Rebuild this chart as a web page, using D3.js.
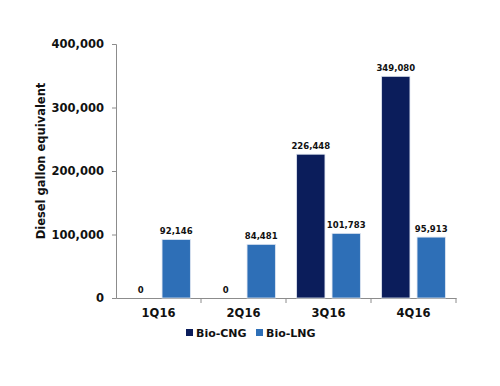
<!DOCTYPE html>
<html>
<head>
<meta charset="utf-8">
<script src="https://cdn.jsdelivr.net/npm/d3@7"></script>
<style>
  body { margin: 0; background: #fff; }
  text { font-family: "DejaVu Sans", Verdana, sans-serif; font-weight: bold; fill: #111; }
</style>
</head>
<body>
<script>
// chart data
var quarters = ["1Q16", "2Q16", "3Q16", "4Q16"];
var seriesNames = ["Bio-CNG", "Bio-LNG"];
var bioCNG = [0, 0, 226448, 349080];
var bioLNG = [92146, 84481, 101783, 95913];
var yTicks = [0, 100000, 200000, 300000, 400000];
var colors = ["#0b1d5b", "#2e6fb7"];

var width = 500, height = 386;
var margin = {top: 44, right: 44, bottom: 88, left: 116};

var svg = d3.select("body").append("svg")
    .attr("width", width)
    .attr("height", height);

var x = d3.scaleBand()
    .domain(quarters)
    .range([margin.left, width - margin.right]);

var inner = d3.scaleBand()
    .domain(seriesNames)
    .range([0, x.bandwidth()])
    .paddingInner(0.2)
    .paddingOuter(0.3);

var y = d3.scaleLinear()
    .domain([0, 400000])
    .range([height - margin.bottom, margin.top]);

var fmt = d3.format(",");

// y axis
var yAxis = svg.append("g")
    .attr("transform", "translate(" + margin.left + ",0)")
    .call(d3.axisLeft(y).tickValues(yTicks).tickFormat(fmt).tickSize(4).tickPadding(8));
yAxis.selectAll("text").style("font-size", "11.5px");

// x axis with ticks at category borders
var xAxis = svg.append("g")
    .attr("transform", "translate(0," + y(0) + ")")
    .call(d3.axisBottom(x).tickSize(0).tickPadding(11));
xAxis.selectAll("text").style("font-size", "11.5px");
xAxis.selectAll(".tick line").remove();
xAxis.selectAll(".border")
    .data(quarters)
    .enter()
    .append("line")
    .attr("x1", function(d) { return x(d) + x.bandwidth(); })
    .attr("x2", function(d) { return x(d) + x.bandwidth(); })
    .attr("y1", 0)
    .attr("y2", 5)
    .attr("stroke", "#8c8c8c");

svg.selectAll(".domain").attr("stroke", "#8c8c8c");
svg.selectAll(".tick line").attr("stroke", "#8c8c8c");

// y axis title
svg.append("text")
    .attr("transform", "translate(45," + ((margin.top + y(0)) / 2 - 10) + ") rotate(-90)")
    .style("text-anchor", "middle")
    .style("font-size", "11.5px")
    .text("Diesel gallon equivalent");

// bars
var rows = [];
quarters.forEach(function(q, i) {
    rows.push({q: q, s: seriesNames[0], v: bioCNG[i], c: colors[0]});
    rows.push({q: q, s: seriesNames[1], v: bioLNG[i], c: colors[1]});
});

svg.selectAll(".bar")
    .data(rows)
    .enter()
    .append("rect")
    .attr("class", "bar")
    .attr("x", function(d) { return x(d.q) + inner(d.s); })
    .attr("y", function(d) { return y(d.v); })
    .attr("width", inner.bandwidth())
    .attr("height", function(d) { return y(0) - y(d.v); })
    .attr("fill", function(d) { return d.c; })
    .attr("stroke", function(d) { return d.v > 0 ? "#dfe6f1" : "none"; })
    .attr("stroke-width", 0.8);

// value labels
svg.selectAll(".lbl")
    .data(rows)
    .enter()
    .append("text")
    .attr("class", "lbl")
    .attr("x", function(d) { return x(d.q) + inner(d.s) + inner.bandwidth() / 2; })
    .attr("y", function(d) { return y(d.v) - 5; })
    .style("text-anchor", "middle")
    .style("font-size", "8.5px")
    .text(function(d) { return fmt(d.v); });

// legend
var legend = svg.selectAll(".legend")
    .data(seriesNames)
    .enter()
    .append("g")
    .attr("class", "legend")
    .attr("transform", function(d, i) { return "translate(" + (186 + i * 70) + ",333)"; });

legend.append("rect")
    .attr("x", 0)
    .attr("y", -4)
    .attr("width", 7)
    .attr("height", 7)
    .attr("fill", function(d, i) { return colors[i]; });

legend.append("text")
    .attr("x", 10)
    .attr("y", 4)
    .style("font-size", "11px")
    .text(function(d) { return d; });
</script>
</body>
</html>
